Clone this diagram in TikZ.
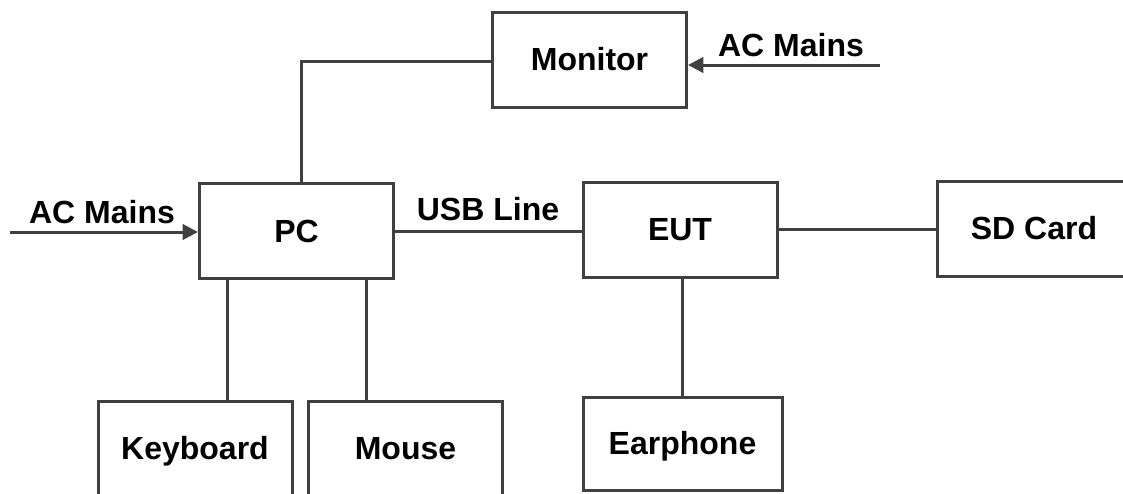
\documentclass[tikz,border=0pt]{standalone}
\usepackage{fontspec}
\setmainfont{Liberation Sans}
\usetikzlibrary{arrows.meta}
\definecolor{linegray}{HTML}{404040}

\begin{document}
\begin{tikzpicture}[x=0.75pt, y=-0.75pt, every node/.style={font=\fontsize{24}{28}\selectfont\bfseries}, >={Triangle[length=11.5pt,width=11.5pt]},
	box/.style={draw=linegray, line width=2.25pt, minimum width=145.5pt, minimum height=71.25pt, inner sep=0pt, text height=17.2pt, text depth=0pt},
	wire/.style={draw=linegray, line width=2.25pt}]
	\useasboundingbox (0,0) rectangle (1123,493);
	\clip (0,0) rectangle (1123,493);
	\node[box] (monitor) at (589.5,59.5) {Monitor};
	\node[box] (pc) at (296.5,231) {PC};
	\node[box] (eut) at (680,229.5) {EUT};
	\node[box] (sdcard) at (1034,228.5) {SD Card};
	\node[box] (keyboard) at (195,448.5) {Keyboard};
	\node[box] (mouse) at (405.5,448.5) {Mouse};
	\node[box, minimum width=149.25pt, minimum height=69.75pt] (earphone) at (682.5,443.5) {Earphone};
	\coordinate (acleft) at (10,232);
	\coordinate (acright) at (880,65);
	\draw[wire,->] (acleft) -- (acleft -| pc.west);
	\node[anchor=base] (acleftlabel) at (102,223) {AC Mains};
	\draw[wire,->] (acright) -- (acright -| monitor.east);
	\node[anchor=base] (acrightlabel) at (791,56) {AC Mains};
	\draw[wire] ([xshift=4.1pt]pc.north) |- ([yshift=-1.8pt]monitor.west);
	\draw[wire] (pc.east) -- (pc.east -| eut.west);
	\node[anchor=base] (usblabel) at (488,220) {USB Line};
	\draw[wire] (eut.east) -- (eut.east -| sdcard.west);
	\draw[wire] (pc.south -| 227,0) -- (keyboard.north -| 227,0);
	\draw[wire] (pc.south -| 366,0) -- (mouse.north -| 366,0);
	\draw[wire] (earphone.north) -- (earphone.north |- eut.south);
\end{tikzpicture}
\end{document}
